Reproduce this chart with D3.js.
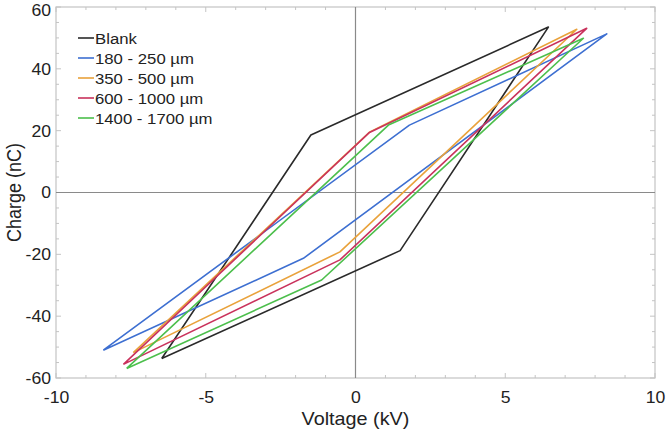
<!DOCTYPE html>
<html><head><meta charset="utf-8">
<script src="https://cdn.jsdelivr.net/npm/d3@7"></script>
<style>body{margin:0;background:#fff}svg{display:block}text{font-family:"Liberation Sans",Arial,Helvetica,sans-serif;fill:#222}</style>
</head><body>
<svg id="c" width="666" height="431"></svg>
<script>
const seriesNames = ["Blank", "180 - 250 µm", "350 - 500 µm", "600 - 1000 µm", "1400 - 1700 µm"];
const seriesColors = ["#2a2a2a", "#3d6fd1", "#e9a23b", "#c9325c", "#4cbf4c"];
// Loop vertices: [voltage kV, charge nC]
const blankLoop = [[-6.47,-53.7],[-1.49,18.6],[6.44,53.5],[1.49,-18.8],[-6.47,-53.7]];
const loop180 = [[-8.42,-51.0],[1.8,21.8],[8.39,51.3],[-1.74,-21.3],[-8.42,-51.0]];
const loop350 = [[-7.42,-51.8],[0.48,19.6],[7.39,52.8],[-0.52,-19.2],[-7.42,-51.8]];
const loop600 = [[-7.75,-55.6],[0.45,19.3],[7.72,53.1],[-0.52,-21.8],[-7.75,-55.6]];
const loop1400 = [[-7.64,-56.9],[1.1,21.8],[7.61,49.9],[-1.13,-28.3],[-7.64,-56.9]];
const loops = [blankLoop, loop180, loop350, loop600, loop1400];
const xTickLabels = [-10,-5,0,5,10];
const yTickLabels = [-60,-40,-20,0,20,40,60];

const svg = d3.select("#c");
const L=56, R=655, T=7, B=378;
const SX = 1.1; // horizontal text stretch of the reference
const x = d3.scaleLinear().domain([-10,10]).range([L,R]);
const y = d3.scaleLinear().domain([-60,60]).range([B,T]);
const frame = "#c4c4c4";

// minor ticks
const xMinor = d3.range(-10,10.01,1), yMinor = d3.range(-60,60.01,5);
const g = svg.append("g");
g.selectAll(".xb").data(xMinor).join("line").attr("x1",d=>x(d)).attr("x2",d=>x(d))
 .attr("y1",B).attr("y2",d=>B-(d%5===0?5:3)).attr("stroke",frame);
g.selectAll(".xt").data(xMinor).join("line").attr("x1",d=>x(d)).attr("x2",d=>x(d))
 .attr("y1",T).attr("y2",d=>T+(d%5===0?5:3)).attr("stroke",frame);
g.selectAll(".yl").data(yMinor).join("line").attr("y1",d=>y(d)).attr("y2",d=>y(d))
 .attr("x1",L).attr("x2",d=>L+(d%20===0?5:3)).attr("stroke",frame);
g.selectAll(".yr").data(yMinor).join("line").attr("y1",d=>y(d)).attr("y2",d=>y(d))
 .attr("x1",R).attr("x2",d=>R-(d%20===0?5:3)).attr("stroke",frame);
svg.append("rect").attr("x",L).attr("y",T).attr("width",R-L).attr("height",B-T)
 .attr("fill","none").attr("stroke",frame).attr("stroke-width",1.2);

// zero lines
svg.append("line").attr("x1",x(0)).attr("x2",x(0)).attr("y1",T).attr("y2",B).attr("stroke","#8a8a8a").attr("stroke-width",1.2);
svg.append("line").attr("x1",L).attr("x2",R).attr("y1",y(0)).attr("y2",y(0)).attr("stroke","#8a8a8a").attr("stroke-width",1.2);

// tick labels via axes
const fmt = d => d<0 ? "-"+Math.abs(d) : String(d);
const xAxis = svg.append("g").attr("transform",`translate(0,${B})`)
 .call(d3.axisBottom(x).tickValues(xTickLabels).tickSize(0).tickPadding(10).tickFormat(fmt));
const yAxis = svg.append("g").attr("transform",`translate(${L},0)`)
 .call(d3.axisLeft(y).tickValues(yTickLabels).tickSize(0).tickPadding(5).tickFormat(fmt));
[xAxis,yAxis].forEach(a=>{a.select(".domain").remove();
  a.selectAll("text").attr("font-size",16).attr("fill","#222")
   .attr("font-family","Liberation Sans, Arial, sans-serif").attr("transform",`scale(${SX},1)`);});
xAxis.selectAll("text").attr("dy",null).attr("y",25);
yAxis.selectAll("text").attr("x",-5/SX).attr("dy",d=>d===60?"0.55em":"0.34em");

// loops
const line = d3.line().x(d=>x(d[0])).y(d=>y(d[1]));
svg.selectAll(".loop").data(loops).join("path").attr("d",line).attr("fill","none")
 .attr("stroke",(d,i)=>seriesColors[i]).attr("stroke-width",1.6).attr("stroke-linejoin","round");

// labels
svg.append("text").attr("transform",`translate(${(L+R)/2},425) scale(${SX},1)`).attr("text-anchor","middle").attr("font-size",18).text("Voltage (kV)");
svg.append("text").attr("transform",`translate(21,${(T+B)/2}) rotate(-90) scale(1,${SX})`).attr("text-anchor","middle").attr("font-size",18).text("Charge (nC)");

// legend
const lg = svg.append("g");
seriesNames.forEach((n,i)=>{
  const yy = 38 + i*20;
  lg.append("line").attr("x1",78).attr("x2",94).attr("y1",yy).attr("y2",yy).attr("stroke",seriesColors[i]).attr("stroke-width",1.6);
  lg.append("text").attr("transform",`translate(95,${yy+5.5}) scale(1.08,1)`).attr("font-size",15.5).text(n);
});
</script></body></html>
